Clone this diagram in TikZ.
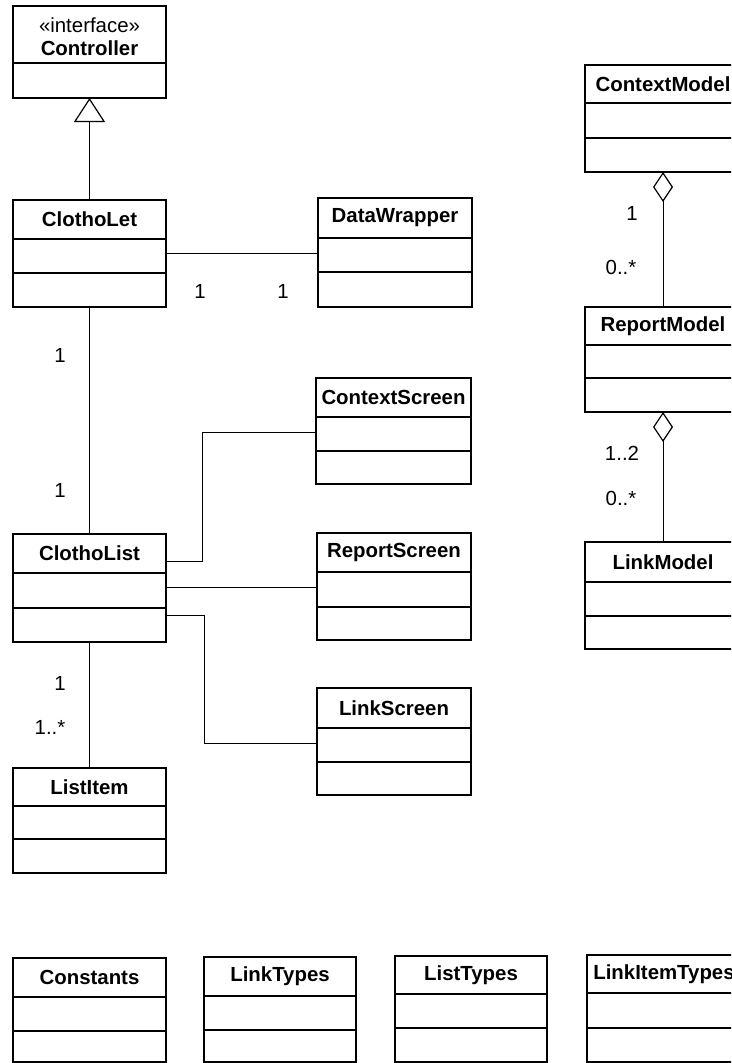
\documentclass[tikz,border=0pt]{standalone}
\usepackage{fontspec}
\setmainfont{Liberation Sans}
\usetikzlibrary{arrows.meta}
\tikzset{
  classbox/.style={draw=black, line width=1.6pt, inner sep=0pt, outer sep=0pt, fill=none},
  classline/.style={draw=black, line width=1.6pt},
  classname/.style={font=\fontsize{20.4pt}{22pt}\selectfont\bfseries, inner sep=0pt},
  stereo/.style={font=\fontsize{20.4pt}{22pt}\selectfont, inner sep=0pt},
  mult/.style={font=\fontsize{20.4pt}{22pt}\selectfont, inner sep=0pt},
  conn/.style={draw=black, line width=1pt},
  gentip/.style={-{Triangle[open,length=24pt,width=31pt,line width=1.2pt]}},
  aggtip/.style={{Diamond[open,length=30pt,width=20pt,line width=1.2pt]}-}
}
% name, left, right, top, line1, line2, bottom, text
\newcommand{\umlbox}[8]{%
  \node[classbox, anchor=north west, minimum width={(#3-#2)*1pt}, minimum height={(#7-#4)*1pt}] (#1) at (#2,-#4) {};
  \draw[classline] (#2,-#5) -- (#3,-#5);
  \draw[classline] (#2,-#6) -- (#3,-#6);
  \node[classname] (#1-name) at ({(#2+#3)/2},{-(#4+#5)/2}) {#8};
}
\begin{document}
\begin{tikzpicture}[x=1pt,y=1pt]
\useasboundingbox (0,0) rectangle (731,-1063);
\clip (0,0) rectangle (731,-1063);
\fill[white] (0,0) rectangle (731,-1063);

% Controller interface
\node[classbox, anchor=north west, minimum width=153pt, minimum height=92pt] (controller) at (13,-6) {};
\draw[classline] (13,-63) -- (166,-63);
\node[stereo] (controller-stereo) at (89.5,-25) {«interface»};
\node[classname] (controller-name) at (89.5,-48) {Controller};

\umlbox{clotholet}{13}{166}{200}{239}{273}{307}{ClothoLet}
\umlbox{datawrapper}{318}{472}{198}{238}{272}{307}{DataWrapper}
\umlbox{contextscreen}{316}{471}{378}{417}{451}{484}{ContextScreen}
\umlbox{reportscreen}{317}{471}{533}{572}{607}{640}{ReportScreen}
\umlbox{linkscreen}{317}{471}{688}{728}{762}{795}{LinkScreen}
\umlbox{clotholist}{13}{166}{534}{573}{608}{642}{ClothoList}
\umlbox{listitem}{13}{166}{768}{806}{839}{873}{ListItem}
\umlbox{contextmodel}{585}{741}{65}{103}{138}{172}{ContextModel}
\umlbox{reportmodel}{585}{741}{307}{345}{378}{412}{ReportModel}
\umlbox{linkmodel}{585}{741}{542}{582}{616}{649}{LinkModel}
\umlbox{constants}{13}{166}{958}{997}{1031}{1062}{Constants}
\umlbox{linktypes}{204}{356}{957}{996}{1030}{1062}{LinkTypes}
\umlbox{listtypes}{395}{547}{956}{994}{1028}{1062}{ListTypes}
\umlbox{linkitemtypes}{587}{741}{955}{993}{1028}{1062}{LinkItemTypes}

% helper coordinates
\coordinate (ydw) at (0,-253);
\coordinate (ycs1) at (0,-561);
\coordinate (bcs1) at (202,-561);
\coordinate (bcs2) at (202,-432);
\coordinate (ycs2) at (0,-432);
\coordinate (yrs) at (0,-587);
\coordinate (yls1) at (0,-615);
\coordinate (bls1) at (204,-615);
\coordinate (bls2) at (204,-743);
\coordinate (yls2) at (0,-743);

% connectors
\draw[conn, gentip] (clotholet.north) -- (controller.south);
\draw[conn] (clotholet.east |- ydw) -- (datawrapper.west |- ydw);
\draw[conn] (clotholet.south) -- (clotholist.north);
\draw[conn] (clotholist.east |- ycs1) -- (bcs1) -- (bcs2) -- (contextscreen.west |- ycs2);
\draw[conn] (clotholist.east |- yrs) -- (reportscreen.west |- yrs);
\draw[conn] (clotholist.east |- yls1) -- (bls1) -- (bls2) -- (linkscreen.west |- yls2);
\draw[conn] (clotholist.south) -- (listitem.north);
\draw[conn, aggtip] (contextmodel.south) -- (reportmodel.north);
\draw[conn, aggtip] (reportmodel.south) -- (linkmodel.north);

% multiplicities
\node[mult] (m1) at (200,-291) {1};
\node[mult] (m2) at (283,-291) {1};
\node[mult] (m3) at (60,-355) {1};
\node[mult] (m4) at (60,-490) {1};
\node[mult] (m5) at (60,-683) {1};
\node[mult] (m6) at (50,-727) {1..*};
\node[mult] (m7) at (632,-213) {1};
\node[mult] (m8) at (621,-267) {0..*};
\node[mult] (m9) at (622,-453) {1..2};
\node[mult] (m10) at (621,-498) {0..*};
\end{tikzpicture}
\end{document}
